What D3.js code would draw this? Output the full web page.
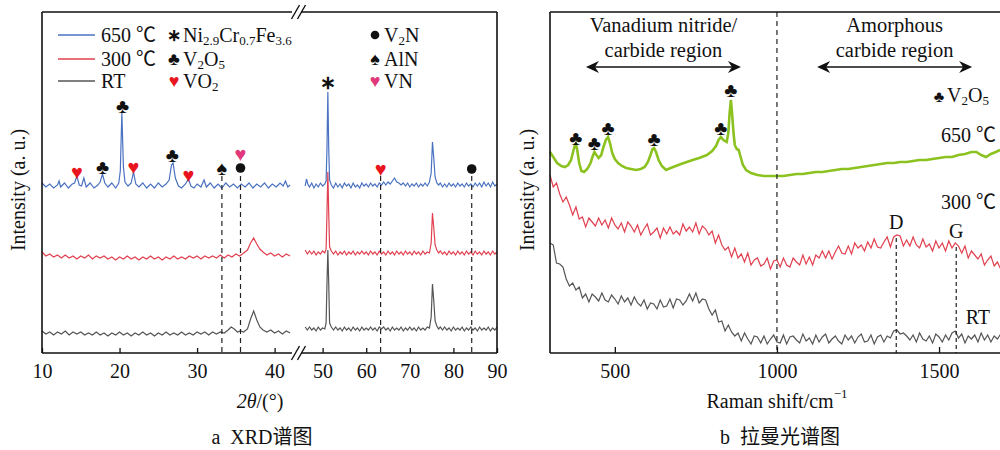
<!DOCTYPE html>
<html>
<head>
<meta charset="utf-8">
<script src="https://cdn.jsdelivr.net/npm/d3@7"></script>
<style>
body { margin: 0; background: #fff; }
text { font-family: "Liberation Serif", "Times New Roman", "Noto Sans CJK SC", serif; fill: #111; }
</style>
</head>
<body>
<script>
// ---------- XRD data (2theta, intensity a.u.) ----------
const xrd650Left = [[10,170],[10.5,166],[11,169],[11.5,165],[12,168],[12.2,172],[12.4,166],[12.9,170],[13.4,165],[13.9,169],[14.2,170],[14.5,177],[14.8,168],[15.1,167],[15.4,175],[15.7,166],[16.2,170],[16.7,165],[17.2,168],[17.5,171],[17.8,179],[18.1,170],[18.5,166],[19,170],[19.5,165],[19.9,170],[20.1,182],[20.3,240],[20.5,186],[20.7,171],[21.1,167],[21.5,170],[21.8,181],[22.1,169],[22.5,166],[23,170],[23.5,165],[24,169],[24.5,165],[25,170],[25.5,166],[26,169],[26.4,173],[26.7,188],[26.9,190],[27.2,175],[27.6,167],[28,165],[28.5,169],[28.9,174],[29.2,167],[29.6,165],[30,169],[30.5,166],[30.9,173],[31.2,166],[31.7,170],[32.2,165],[32.7,169],[33.2,165],[33.7,170],[34.2,166],[34.7,169],[35.2,165],[35.7,169],[36.2,166],[36.7,170],[37.2,165],[37.7,169],[38.2,166],[38.7,170],[39.2,165],[39.7,169],[40.2,166],[40.7,170],[41.1,167],[41.4,172],[41.7,166],[42,168]]
const xrd650Right = [[46,167],[46.3,174],[46.6,169],[47,166],[47.5,170],[48,165],[48.5,169],[49,166],[49.5,170],[50,167],[50.5,169],[50.8,172],[51,205],[51.2,261],[51.4,205],[51.6,173],[52,168],[52.5,165],[53,170],[53.5,166],[54,169],[54.5,165],[55,170],[55.5,167],[56,169],[56.5,165],[57,170],[57.5,166],[58,168],[58.5,165],[59,170],[59.5,167],[60,169],[60.5,166],[61,170],[61.5,167],[62,169],[62.5,166],[63,170],[63.5,168],[64,171],[64.5,168],[65,171],[65.5,169],[66,172],[66.5,175],[67,171],[67.5,170],[68,168],[68.5,170],[69,167],[69.5,170],[70,166],[70.5,169],[71,167],[71.5,170],[72,166],[72.5,169],[73,167],[73.5,170],[74,167],[74.5,171],[74.9,180],[75.2,211],[75.5,195],[75.8,176],[76.2,170],[76.6,168],[77,170],[77.5,166],[78,169],[78.5,166],[79,170],[79.5,167],[80,169],[80.5,166],[81,170],[81.5,167],[82,169],[82.5,166],[83,170],[83.5,167],[84,169],[84.5,166],[85,170],[85.5,167],[86,170],[86.5,166],[87,171],[87.5,167],[88,170],[88.5,166],[89,171],[89.5,167],[90,169]]

const xrd300Left = [[10,101],[10.5,97],[11,99],[11.5,96],[12,98],[12.5,95],[13,98],[13.5,95],[14,97],[14.5,94],[15,97],[15.5,95],[16,98],[16.5,94],[17,97],[17.5,95],[18,97],[18.5,94],[19,96],[19.5,93],[20,96],[20.5,94],[21,97],[21.5,94],[22,96],[22.5,93],[23,96],[23.5,94],[24,97],[24.5,94],[25,96],[25.5,93],[26,96],[26.5,94],[27,97],[27.5,94],[28,96],[28.5,94],[29,97],[29.5,95],[30,97],[30.5,94],[31,97],[31.5,95],[32,97],[32.5,95],[33,98],[33.5,95],[34,98],[34.5,96],[35,99],[35.5,97],[36,100],[36.5,103],[36.9,110],[37.3,115],[37.7,109],[38.1,104],[38.5,101],[39,98],[39.5,100],[40,97],[40.5,99],[41,96],[41.5,99],[42,97]]
const xrd300Right = [[46,103],[46.5,99],[47,102],[47.5,99],[48,102],[48.5,98],[49,101],[49.5,99],[50,102],[50.5,100],[50.8,104],[51,140],[51.2,181],[51.4,140],[51.6,106],[52,102],[52.5,99],[53,102],[53.5,98],[54,101],[54.5,99],[55,102],[55.5,98],[56,101],[56.5,99],[57,102],[57.5,98],[58,101],[58.5,99],[59,102],[59.5,99],[60,101],[60.5,98],[61,102],[61.5,99],[62,101],[62.5,98],[63,102],[63.5,99],[64,101],[64.5,98],[65,102],[65.5,99],[66,101],[66.5,98],[67,102],[67.5,99],[68,101],[68.5,98],[69,102],[69.5,99],[70,101],[70.5,98],[71,102],[71.5,99],[72,101],[72.5,98],[73,102],[73.5,99],[74,101],[74.5,100],[74.9,110],[75.2,140],[75.5,125],[75.8,108],[76.2,103],[76.6,100],[77,102],[77.5,99],[78,101],[78.5,98],[79,102],[79.5,99],[80,101],[80.5,98],[81,102],[81.5,99],[82,101],[82.5,98],[83,102],[83.5,99],[84,101],[84.5,98],[85,102],[85.5,99],[86,101],[86.5,98],[87,102],[87.5,99],[88,101],[88.5,98],[89,102],[89.5,99],[90,101]]

const xrdRTLeft = [[10,22],[10.5,19],[11,21],[11.5,18],[12,21],[12.5,19],[13,22],[13.5,18],[14,21],[14.5,19],[15,21],[15.5,18],[16,20],[16.5,18],[17,21],[17.5,18],[18,20],[18.5,17],[19,20],[19.5,18],[20,21],[20.5,18],[21,20],[21.5,17],[22,20],[22.5,18],[23,21],[23.5,18],[24,20],[24.5,17],[25,20],[25.5,18],[26,21],[26.5,18],[27,20],[27.5,18],[28,21],[28.5,18],[29,20],[29.5,18],[30,21],[30.5,19],[31,21],[31.5,18],[32,21],[32.5,19],[33,21],[33.5,20],[34,23],[34.4,26],[34.8,24],[35.2,21],[35.6,22],[36,21],[36.5,24],[36.9,34],[37.3,42],[37.7,33],[38.1,26],[38.5,23],[39,21],[39.5,23],[40,20],[40.5,22],[41,19],[41.5,22],[42,20]]
const xrdRTRight = [[46,26],[46.5,23],[47,26],[47.5,23],[48,25],[48.5,22],[49,26],[49.5,23],[50,25],[50.5,24],[50.8,30],[51,70],[51.2,103],[51.4,70],[51.6,30],[52,26],[52.5,23],[53,26],[53.5,23],[54,25],[54.5,22],[55,26],[55.5,23],[56,25],[56.5,22],[57,26],[57.5,23],[58,25],[58.5,22],[59,26],[59.5,23],[60,25],[60.5,23],[61,26],[61.5,23],[62,25],[62.5,22],[63,26],[63.5,24],[64,26],[64.5,23],[65,25],[65.5,22],[66,26],[66.5,23],[67,25],[67.5,23],[68,26],[68.5,22],[69,25],[69.5,23],[70,26],[70.5,23],[71,25],[71.5,22],[72,26],[72.5,23],[73,25],[73.5,23],[74,26],[74.5,25],[74.9,36],[75.2,69],[75.5,52],[75.8,32],[76.2,27],[76.6,24],[77,26],[77.5,23],[78,26],[78.5,23],[79,25],[79.5,22],[80,26],[80.5,23],[81,25],[81.5,23],[82,26],[82.5,22],[83,25],[83.5,23],[84,26],[84.5,23],[85,25],[85.5,22],[86,26],[86.5,23],[87,25],[87.5,23],[88,26],[88.5,22],[89,25],[89.5,23],[90,26]]

// phase markers: [2theta, height, symbol, colour]
const xrdMarkers = [
    [14.5, 181, "♥", "#e8141e"], [17.8, 186, "♣", "#111"], [20.4, 247, "♣", "#111"],
    [21.8, 186, "♥", "#e8141e"], [26.8, 198, "♣", "#111"], [28.9, 178, "♥", "#e8141e"],
    [33.2, 185, "♠", "#111"], [35.6, 185, "●", "#111"], [35.6, 199, "♥", "#e0387a"],
    [51.2, 271, "∗", "#111"], [63.3, 184, "♥", "#e8141e"], [84.2, 184, "●", "#111"]
]
const xrdDashed = [33.2, 35.6, 63.3, 84.2]
const xrdDashTop = 177
const xrdTicksLeft = [10, 20, 30, 40]
const xrdTicksRight = [50, 60, 70, 80, 90]

// ---------- Raman data ----------
const ramanStart = 300
const ramanStep = 10
const raman300 = [178,166,170,159,151,156,148,138,146,134,136,126,135,131,127,135,128,133,125,135,128,124,130,121,131,127,121,128,118,124,129,118,121,125,115,125,119,126,119,122,118,129,122,126,121,130,119,127,124,118,122,110,118,108,103,106,96,105,95,99,91,100,88,93,95,87,89,95,84,92,93,86,95,88,86,95,91,88,98,89,96,88,98,95,102,95,102,94,101,107,100,99,107,99,110,105,108,102,111,105,114,106,105,111,116,106,116,118,117,107,113,107,116,108,105,114,106,109,102,112,105,110,102,112,105,110,107,100,107,95,102,98,94,99,88,93,97,87,91,84]
const ramanRT = [110,108,90,89,86,74,67,70,63,66,55,59,51,59,56,52,60,53,51,58,54,49,57,51,55,48,56,50,47,53,44,50,49,44,53,46,47,54,45,54,53,48,52,59,52,60,50,54,53,44,38,43,31,32,22,28,21,17,20,12,20,14,9,17,16,10,17,9,14,18,11,10,18,9,16,17,13,10,19,12,15,9,18,11,16,19,10,14,17,12,9,18,13,17,10,16,19,11,12,18,9,16,18,11,17,15,22,23,19,20,17,13,18,11,20,14,12,17,10,19,16,11,18,13,20,22,15,19,10,17,14,18,11,20,13,18,11,17,14,19]
const raman650 = [[300,201],[310,196],[322,190],[335,187],[346,186],[356,188],[365,193],[372,202],[377,208],[380,209],[384,203],[390,190],[397,182],[405,181],[415,184],[425,190],[432,197],[437,201],[443,198],[450,195],[458,198],[465,206],[472,213],[479,216],[485,210],[492,200],[500,194],[510,190],[522,187],[535,185],[550,184],[565,183],[580,184],[592,186],[602,191],[610,198],[616,204],[621,205],[627,201],[635,193],[645,187],[658,183],[672,185],[688,187],[704,189],[722,191],[740,193],[760,195],[784,198],[800,202],[812,207],[820,213],[827,216],[835,213],[845,211],[850,220],[854,240],[858,253],[862,238],[866,220],[870,208],[876,204],[882,203],[888,196],[895,188],[905,183],[920,180],[940,178],[960,177],[980,177],[1000,177],[1020,177],[1040,178],[1060,179],[1080,179],[1100,180],[1120,181],[1140,181],[1160,182],[1180,183],[1200,184],[1220,184],[1240,185],[1260,186],[1280,187],[1300,188],[1320,189],[1340,190],[1360,190],[1380,191],[1400,191],[1420,192],[1440,193],[1460,193],[1480,194],[1500,195],[1520,196],[1540,196],[1560,198],[1580,199],[1600,201],[1615,201],[1630,198],[1645,196],[1660,199],[1675,201],[1688,203]]
const ramanMarkers = [[380, 215], [437, 210], [479, 225], [621, 214], [827, 225], [858, 263]]
const ramanTicks = [500, 1000, 1500]
const ramanDG = [["D", 1368, 115], ["G", 1553, 106]]
const ramanRegions = [
    ["Vanadium nitride/", "carbide region", 411, 889],
    ["Amorphous", "carbide region", 1124, 1602]
]

const colors = { c650: "#4a72c0", c300: "#e0404f", cRT: "#555555", green: "#8cc21f" }

// ---------- layout ----------
const svgWidth = 1000
const svgHeight = 450
const plotTop = 12
const plotBottom = 353
const serif = '"Liberation Serif", "Times New Roman", "Noto Sans CJK SC", serif'
const symFont = '"DejaVu Sans", sans-serif'

const svg = d3.select("body").append("svg")
    .attr("width", svgWidth)
    .attr("height", svgHeight)

const y = d3.scaleLinear().domain([0, 341]).range([plotBottom, plotTop])

// draws one phase symbol; the filled dot is a circle so it keeps its size
function symbol(g, x, yy, sym, color, size) {
    if (sym === "●") {
        return g.append("circle").attr("cx", x).attr("cy", yy).attr("r", size * 0.24).attr("fill", color)
    }
    return g.append("text")
        .attr("x", x).attr("y", yy)
        .attr("text-anchor", "middle")
        .attr("dominant-baseline", "central")
        .attr("font-family", symFont)
        .attr("font-size", sym === "∗" ? size * 0.95 : size)
        .attr("font-weight", sym === "∗" ? "bold" : "normal")
        .style("fill", color)
        .text(sym)
}

// ================= panel a : XRD =================
const xLeft = d3.scaleLinear().domain([10, 42.5]).range([42, 294])
const xRight = d3.scaleLinear().domain([45.5, 90]).range([303, 497])
const xrdX = v => v < 44 ? xLeft(v) : xRight(v)

const aG = svg.append("g")

const xrdLine = d3.line().x(d => xrdX(d[0])).y(d => y(d[1]))

const xrdSeries = [
    [xrdRTLeft, colors.cRT], [xrdRTRight, colors.cRT],
    [xrd300Left, colors.c300], [xrd300Right, colors.c300],
    [xrd650Left, colors.c650], [xrd650Right, colors.c650]
]
xrdSeries.forEach(s => {
    aG.append("path")
        .attr("d", xrdLine(s[0]))
        .attr("fill", "none")
        .attr("stroke", s[1])
        .attr("stroke-width", 1.2)
})

xrdDashed.forEach(v => {
    aG.append("line")
        .attr("x1", xrdX(v)).attr("x2", xrdX(v))
        .attr("y1", y(xrdDashTop)).attr("y2", y(0))
        .attr("stroke", "#222").attr("stroke-width", 1.2)
        .attr("stroke-dasharray", "5,4")
})

xrdMarkers.forEach(m => symbol(aG, xrdX(m[0]), y(m[1]), m[2], m[3], 20))

// frame with axis break
const breakL = xLeft(42.5)
const breakR = xRight(45.5)
const frame = [
    [42, plotTop, 42, plotBottom], [497, plotTop, 497, plotBottom],
    [42, plotTop, breakL - 2, plotTop], [breakR - 2, plotTop, 497, plotTop],
    [42, plotBottom, breakL - 2, plotBottom], [breakR - 2, plotBottom, 497, plotBottom]
]
frame.forEach(f => {
    aG.append("line")
        .attr("x1", f[0]).attr("y1", f[1]).attr("x2", f[2]).attr("y2", f[3])
        .attr("stroke", "#111").attr("stroke-width", 1.6)
})
const breakMid = (breakL + breakR) / 2
;[plotTop, plotBottom].forEach(yy => {
    [-3, 3].forEach(off => {
        aG.append("line")
            .attr("x1", breakMid + off - 4).attr("y1", yy + 7)
            .attr("x2", breakMid + off + 4).attr("y2", yy - 7)
            .attr("stroke", "#111").attr("stroke-width", 1.4)
    })
})

const styleAxis = g => {
    g.select(".domain").remove()
    g.selectAll(".tick line").attr("stroke", "#111").attr("stroke-width", 1.3)
    g.selectAll(".tick text").attr("font-family", serif).attr("font-size", 20).style("fill", "#111")
}
aG.append("g")
    .attr("transform", `translate(0, ${plotBottom})`)
    .call(d3.axisBottom(xLeft).tickValues(xrdTicksLeft).tickSizeInner(-5).tickSizeOuter(0).tickPadding(11))
    .call(styleAxis)
aG.append("g")
    .attr("transform", `translate(0, ${plotBottom})`)
    .call(d3.axisBottom(xRight).tickValues(xrdTicksRight).tickSizeInner(-5).tickSizeOuter(0).tickPadding(11))
    .call(styleAxis)

// axis titles
aG.append("text")
    .attr("transform", "translate(18, 190) rotate(-90)")
    .attr("text-anchor", "middle").attr("dominant-baseline", "central")
    .attr("font-size", 20)
    .text("Intensity (a. u.)")

const xt = aG.append("text")
    .attr("x", 260).attr("y", 401)
    .attr("text-anchor", "middle").attr("dominant-baseline", "central")
    .attr("font-size", 20)
xt.append("tspan").attr("font-style", "italic").text("2θ")
xt.append("tspan").text("/(°)")

aG.append("text")
    .attr("x", 262).attr("y", 437)
    .attr("text-anchor", "middle").attr("dominant-baseline", "central")
    .attr("font-size", 20)
    .text("a\u2002XRD谱图")

// legend
const legendRows = [["650 ℃", colors.c650, 35], ["300 ℃", colors.c300, 59], ["RT", colors.cRT, 81]]
legendRows.forEach(r => {
    aG.append("line")
        .attr("x1", 58).attr("x2", 95).attr("y1", r[2]).attr("y2", r[2])
        .attr("stroke", r[1]).attr("stroke-width", 1.3)
    aG.append("text")
        .attr("x", 101).attr("y", r[2])
        .attr("dominant-baseline", "central")
        .attr("font-size", 20)
        .text(r[0])
})

// legend phases: [symbol, colour, x, y, parts]
const legendPhases = [
    ["∗", "#111", 174, 35, [["Ni", 0], ["2.9", 1], ["Cr", 0], ["0.7", 1], ["Fe", 0], ["3.6", 1]]],
    ["♣", "#111", 174, 59, [["V", 0], ["2", 1], ["O", 0], ["5", 1]]],
    ["♥", "#e8141e", 174, 81, [["VO", 0], ["2", 1]]],
    ["●", "#111", 375, 35, [["V", 0], ["2", 1], ["N", 0]]],
    ["♠", "#111", 375, 59, [["AlN", 0]]],
    ["♥", "#e0387a", 375, 81, [["VN", 0]]]
]
function richText(g, x, yy, parts, size) {
    const t = g.append("text")
        .attr("x", x).attr("y", yy)
        .attr("dominant-baseline", "central")
        .attr("font-size", size)
    let sub = 0
    parts.forEach(p => {
        const ts = t.append("tspan").text(p[0])
        if (p[1] === 1 && sub === 0) { ts.attr("dy", 5).attr("font-size", size * 0.65); sub = 1 }
        else if (p[1] === 1) { ts.attr("font-size", size * 0.65) }
        else if (sub === 1) { ts.attr("dy", -5); sub = 0 }
    })
    return t
}
legendPhases.forEach(p => {
    symbol(aG, p[2], p[3], p[0], p[1], 18)
    richText(aG, p[2] + 9, p[3], p[4], 20)
})

// ================= panel b : Raman =================
const xR = d3.scaleLinear().domain([300, 1688]).range([550, 1000])
const bG = svg.append("g")

const ramanLine = d3.line().x(d => xR(d[0])).y(d => y(d[1]))
const toPairs = arr => arr.map((v, i) => [ramanStart + i * ramanStep, v])

bG.append("path").attr("d", ramanLine(toPairs(ramanRT)))
    .attr("fill", "none").attr("stroke", colors.cRT).attr("stroke-width", 1.2)
bG.append("path").attr("d", ramanLine(toPairs(raman300)))
    .attr("fill", "none").attr("stroke", colors.c300).attr("stroke-width", 1.2)
bG.append("path").attr("d", ramanLine(raman650))
    .attr("fill", "none").attr("stroke", colors.green).attr("stroke-width", 2.6)

// dashed lines
bG.append("line")
    .attr("x1", xR(1000)).attr("x2", xR(1000)).attr("y1", plotTop).attr("y2", plotBottom)
    .attr("stroke", "#222").attr("stroke-width", 1.2).attr("stroke-dasharray", "5,4")
ramanDG.forEach(d => {
    bG.append("line")
        .attr("x1", xR(d[1])).attr("x2", xR(d[1])).attr("y1", y(d[2])).attr("y2", plotBottom)
        .attr("stroke", "#222").attr("stroke-width", 1.2).attr("stroke-dasharray", "4,3")
    bG.append("text")
        .attr("x", xR(d[1])).attr("y", y(d[2] + 16))
        .attr("text-anchor", "middle").attr("dominant-baseline", "central")
        .attr("font-size", 20)
        .text(d[0])
})

ramanMarkers.forEach(m => symbol(bG, xR(m[0]), y(m[1]), "♣", "#111", 20))

// frame
;[[550, plotTop, 550, plotBottom], [550, plotTop, 1000, plotTop], [550, plotBottom, 1000, plotBottom]].forEach(f => {
    bG.append("line")
        .attr("x1", f[0]).attr("y1", f[1]).attr("x2", f[2]).attr("y2", f[3])
        .attr("stroke", "#111").attr("stroke-width", 1.6)
})
bG.append("g")
    .attr("transform", `translate(0, ${plotBottom})`)
    .call(d3.axisBottom(xR).tickValues(ramanTicks).tickFormat(d3.format("d")).tickSizeInner(-6).tickSizeOuter(0).tickPadding(11))
    .call(styleAxis)

// region annotations with double arrows
ramanRegions.forEach(r => {
    const x1 = xR(r[2]), x2 = xR(r[3]), mid = (x1 + x2) / 2
    bG.append("text").attr("x", mid).attr("y", 25)
        .attr("text-anchor", "middle").attr("dominant-baseline", "central")
        .attr("font-size", 20.5).text(r[0])
    bG.append("text").attr("x", mid).attr("y", 50)
        .attr("text-anchor", "middle").attr("dominant-baseline", "central")
        .attr("font-size", 20.5).text(r[1])
    bG.append("line").attr("x1", x1 + 6).attr("x2", x2 - 6).attr("y1", 67).attr("y2", 67)
        .attr("stroke", "#111").attr("stroke-width", 1.4)
    bG.append("path").attr("d", `M${x1},67 L${x1 + 13},61 L${x1 + 9},67 L${x1 + 13},73 Z`).attr("fill", "#111")
    bG.append("path").attr("d", `M${x2},67 L${x2 - 13},61 L${x2 - 9},67 L${x2 - 13},73 Z`).attr("fill", "#111")
})

// series labels
symbol(bG, 939, 96, "♣", "#111", 16)
richText(bG, 947, 95, [["V", 0], ["2", 1], ["O", 0], ["5", 1]], 20)

const ramanLabels = [["650 ℃", 996, 135], ["300 ℃", 996, 202], ["RT", 990, 317]]
ramanLabels.forEach(l => {
    bG.append("text").attr("x", l[1]).attr("y", l[2])
        .attr("text-anchor", "end").attr("dominant-baseline", "central")
        .attr("font-size", 20).text(l[0])
})

bG.append("text")
    .attr("transform", "translate(527, 190) rotate(-90)")
    .attr("text-anchor", "middle").attr("dominant-baseline", "central")
    .attr("font-size", 20)
    .text("Intensity (a. u.)")

const rt = bG.append("text")
    .attr("x", 777).attr("y", 401)
    .attr("text-anchor", "middle").attr("dominant-baseline", "central")
    .attr("font-size", 20)
rt.append("tspan").text("Raman shift/cm")
rt.append("tspan").attr("dy", -8).attr("font-size", 13).text("−1")

bG.append("text")
    .attr("x", 780).attr("y", 437)
    .attr("text-anchor", "middle").attr("dominant-baseline", "central")
    .attr("font-size", 20)
    .text("b\u2002拉曼光谱图")
</script>
</body>
</html>
